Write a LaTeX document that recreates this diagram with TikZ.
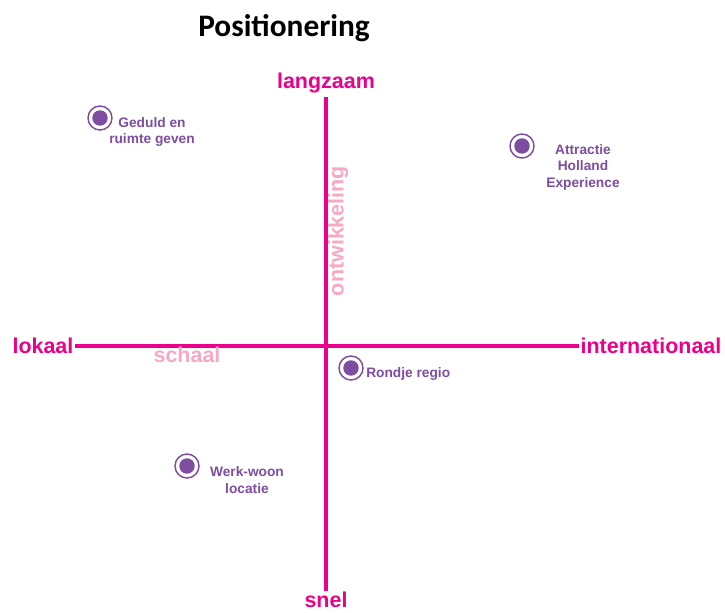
\documentclass[tikz,border=0pt]{standalone}
\usepackage{fontspec}
\setmainfont{Liberation Sans}
\newfontfamily\titlefont{Carlito}
\definecolor{axispink}{RGB}{234,0,139}
\definecolor{lightpink}{RGB}{247,168,196}
\definecolor{markpurple}{RGB}{126,76,160}
\begin{document}
\begin{tikzpicture}[x=0.75pt,y=-0.75pt,
  axislabel/.style={text=axispink,font=\bfseries\fontsize{16.1}{19}\selectfont,inner sep=1pt},
  axisname/.style={text=lightpink,font=\bfseries\fontsize{16.1}{19}\selectfont,inner sep=1pt},
  axisline/.style={draw=axispink,line width=3pt},
  marker/.style={circle,draw=markpurple,line width=1.1pt,minimum size=18pt,inner sep=0pt,
    path picture={\fill[markpurple] (path picture bounding box.center) circle (5.8pt);}},
  marktext/.style={text=markpurple,font=\bfseries\fontsize{10.3}{12.4}\selectfont,align=center,inner sep=0pt}]
\useasboundingbox (0,0) rectangle (725,612);
\node[font=\titlefont\bfseries\fontsize{23.5}{26}\selectfont] (title) at (284,28) {Positionering};
% axes
\node[axislabel,anchor=east] (lokaal) at (75,346) {lokaal};
\node[axislabel,anchor=west] (intl) at (579,346) {internationaal};
\node[axislabel] (langzaam) at (326,83) {langzaam};
\node[axislabel] (snel) at (326,600) {snel};
\coordinate (vtop) at (326,97);
\coordinate (vbot) at (326,591);
\draw[axisline] (lokaal.east) -- (intl.west);
\draw[axisline] (vtop) -- (vbot);
\node[axisname] (schaal) at (187,355) {schaal};
\node[axisname,rotate=90] (ontw) at (338,231) {ontwikkeling};
% markers
\node[marker] (m1) at (100,118) {};
\node[marktext] (t1) at (152,132) {Geduld en\\ruimte geven};
\node[marker] (m2) at (522,146) {};
\node[marktext] (t2) at (583,167) {Attractie\\Holland\\Experience};
\node[marker] (m3) at (351,368) {};
\node[marktext,anchor=west] (t3) at (366,374) {Rondje regio};
\node[marker] (m4) at (187,466) {};
\node[marktext] (t4) at (247,480) {Werk-woon\\locatie};
\end{tikzpicture}
\end{document}
